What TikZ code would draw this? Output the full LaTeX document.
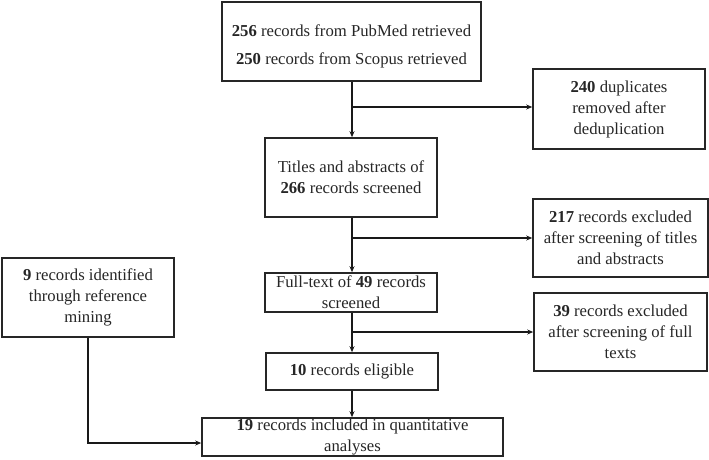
\documentclass[tikz,border=0pt]{standalone}
\usepackage{fontspec}
\setmainfont{Liberation Serif}
\usetikzlibrary{arrows.meta}
\begin{document}
\begin{tikzpicture}[x=1pt,y=-1pt,
  box/.style={draw=black!85,line width=1.6pt,align=center,inner sep=0pt,
    font=\fontsize{16.7}{21}\selectfont,text=black!85},
  lbl/.style={align=center,inner sep=0pt,font=\fontsize{16.7}{21}\selectfont,text=black!85},
  conn/.style={line width=2.2pt,draw=black!90,-{Stealth[length=6pt,width=5pt]}}]
\useasboundingbox (0,0) rectangle (709,460);
\node[box,minimum width=259pt,minimum height=79pt] (b1) at (351.5,41.5) {};
\node[lbl] (b1t) at (351.5,46)
  {\textbf{256} records from PubMed retrieved\\[7pt]\textbf{250} records from Scopus retrieved};
\node[box,minimum width=172pt,minimum height=80pt] (b2) at (619,109)
  {\textbf{240} duplicates\\removed after\\deduplication};
\node[box,minimum width=172pt,minimum height=79pt] (b3) at (351,177.5)
  {Titles and abstracts of\\\textbf{266} records screened};
\node[box,minimum width=175pt,minimum height=78pt] (b4) at (620.5,238)
  {\textbf{217} records excluded\\after screening of titles\\and abstracts};
\node[box,minimum width=172pt,minimum height=79pt] (b5) at (88,297.5)
  {\textbf{9} records identified\\through reference\\mining};
\node[box,minimum width=172pt,minimum height=39pt] (b6) at (351,292.5)
  {Full-text of \textbf{49} records\\screened};
\node[box,minimum width=173pt,minimum height=78pt] (b7) at (620.5,332)
  {\textbf{39} records excluded\\after screening of full\\texts};
\node[box,minimum width=172pt,minimum height=37pt] (b8) at (352,371.5)
  {\textbf{10} records eligible};
\node[box,minimum width=301pt,minimum height=38pt] (b9) at (352.5,437)
  {\textbf{19} records included in quantitative\\analyses};
\coordinate (j1) at (352,107);
\coordinate (j2) at (352,238);
\coordinate (j3) at (352,332);
\coordinate (c1) at (88,443);
\coordinate (c2) at (b9.west |- c1);
\draw[conn] (b1.south -| j1) -- (b3.north -| j1);
\draw[conn] (j1) -- (b2.west |- j1);
\draw[conn] (b3.south -| j2) -- (b6.north -| j2);
\draw[conn] (j2) -- (b4.west |- j2);
\draw[conn] (b6.south -| j3) -- (b8.north -| j3);
\draw[conn] (j3) -- (b7.west |- j3);
\draw[conn] (b8.south -| j3) -- (b9.north -| j3);
\draw[conn] (b5.south) -- (c1) -- (c2);
\end{tikzpicture}
\end{document}
